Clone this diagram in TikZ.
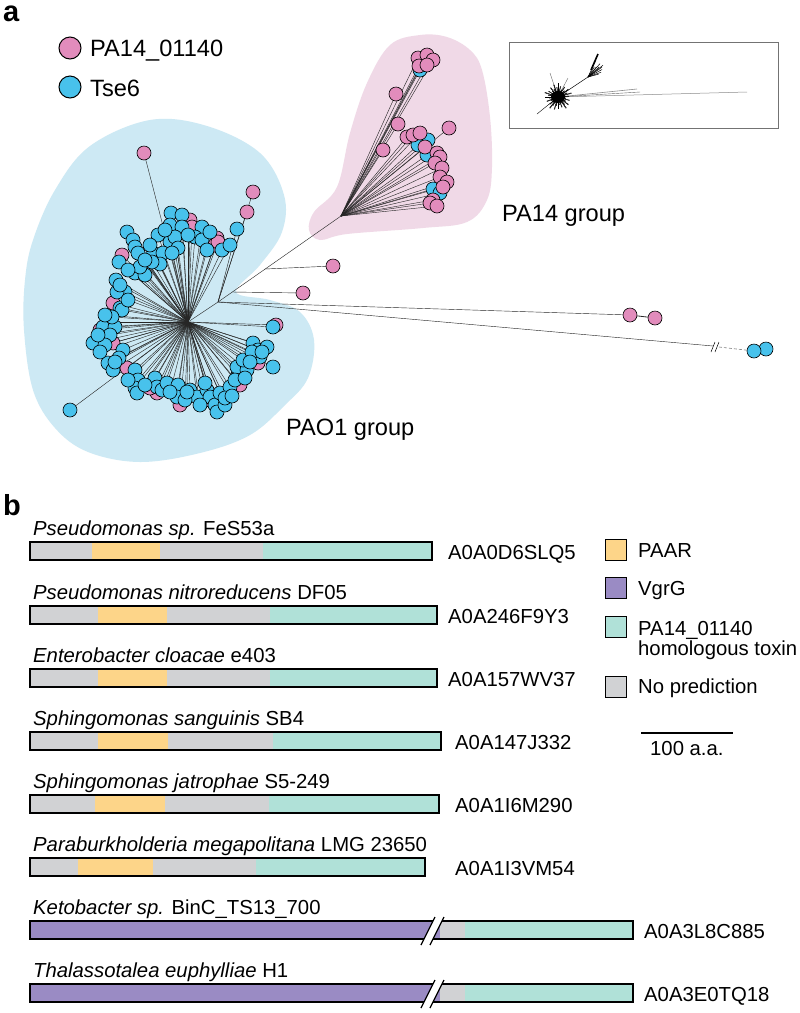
\documentclass[tikz,border=0pt]{standalone}
\usepackage{fontspec}
\setmainfont{Liberation Sans}
\pgfdeclarelayer{blobs}
\pgfdeclarelayer{edges}
\pgfsetlayers{blobs,edges,main}
\definecolor{nblue}{RGB}{72,194,236}
\definecolor{npink}{RGB}{226,140,188}
\definecolor{bblue}{RGB}{205,233,244}
\definecolor{bpink}{RGB}{240,217,231}
\definecolor{cgray}{RGB}{209,210,212}
\definecolor{corange}{RGB}{253,213,137}
\definecolor{cteal}{RGB}{176,225,216}
\definecolor{cpurple}{RGB}{154,139,196}
\tikzset{
  edge/.style={draw=black!85, line width=0.42pt},
  nd/.style={circle, draw=black, line width=0.6pt, minimum size=14pt, inner sep=0pt},
  pk/.style={nd, fill=npink},
  bl/.style={nd, fill=nblue},
  lgd/.style={circle, draw=black, line width=1pt, minimum size=22pt, inner sep=0pt},
  barline/.style={draw=black, line width=1.4pt},
  sq/.style={draw=black, line width=1pt, minimum size=21pt, inner sep=0pt},
  lab/.style={anchor=base west, inner sep=0pt, font=\fontsize{20.3}{24}\selectfont},
  big/.style={anchor=base west, inner sep=0pt, font=\fontsize{23.6}{28}\selectfont},
  panel/.style={anchor=base west, inner sep=0pt, font=\fontsize{29}{32}\selectfont\bfseries},
}
\newcommand\drawprot[9]{%
  \fill[cgray] (30,#2) rectangle (#3,#2+18);
  \fill[corange] (#4,#2) rectangle (#5,#2+18);
  \fill[cteal] (#6,#2) rectangle (#3,#2+18);
  \draw[barline] (30,#2) rectangle (#3,#2+18);
  \node[lab] (sp#1) at (33,#2-7) {#7};
  \node[lab] (id#1) at (#9,#2+17) {#8};
}
\newcommand\drawvgrg[4]{%
  \fill[cpurple] (30,#2) rectangle (440,#2+18);
  \fill[cgray] (440,#2) rectangle (465,#2+18);
  \fill[cteal] (465,#2) rectangle (633,#2+18);
  \draw[barline] (30,#2) rectangle (633,#2+18);
  \fill[white] (421,#2+24) -- (435,#2-4) -- (444,#2-4) -- (430,#2+24) -- cycle;
  \draw[line width=1.2pt] (421,#2+24) -- (435,#2-4);
  \draw[line width=1.2pt] (430,#2+24) -- (444,#2-4);
  \node[lab] (sp#1) at (33,#2-7) {#3};
  \node[lab] (id#1) at (644,#2+17) {#4};
}
\begin{document}
\begin{tikzpicture}[x=1pt, y=-1pt]
\useasboundingbox (0,0) rectangle (800,1013);

% ---------------- panel a ----------------
\node[panel] (pa) at (3,21) {a};
\node[lgd, fill=npink] (lg1) at (70,48) {};
\node[big] (lt1) at (90,56) {PA14\_01140};
\node[lgd, fill=nblue] (lg2) at (70,87) {};
\node[big] (lt2) at (90,96) {Tse6};

\begin{pgfonlayer}{blobs}
\fill[white] (0,0) rectangle (800,1013);
\fill[bblue] plot[smooth cycle, tension=0.6] coordinates {(33,240) (55,190) (90,146) (150,120) (207,126) (260,153) (284,195) (282,232) (260,265) (236,292) (270,300) (300,312) (314,340) (308,378) (285,405) (250,435) (200,453) (140,462) (88,452) (55,428) (33,390) (24,330) (25,280)};
\fill[bpink] plot[smooth cycle, tension=0.6] coordinates {(390,45) (420,35) (447,37) (470,50) (482,70) (490,117) (492,167) (487,200) (467,222) (423,228) (347,234) (320,240) (309,230) (314,212) (337,187) (350,133) (367,83)};
\end{pgfonlayer}

\coordinate (H1) at (188,322);
\coordinate (B) at (218,302);
\coordinate (H2) at (341,216);
\coordinate (C1) at (265,269);
\coordinate (C2) at (232,292);
\coordinate (K) at (713,346);

\begin{pgfonlayer}{edges}
\draw[edge] (H1) -- (B) -- (H2);
\draw[edge] (B) -- (630,315);
\draw[edge] (B) -- (K);
\end{pgfonlayer}

% PAO1 group: pink nodes behind
\foreach \x/\y [count=\i] in {190/220,192/227,217/238,215/245,218/242,113/303,113/343,127/368,157/393,180/405,258/363,276/325,122/255,100/330,150/388,240/385,205/400}{
  \node[pk] (ap\i) at (\x,\y) {};
  \begin{pgfonlayer}{edges}\draw[edge] (H1) -- (ap\i.center);\end{pgfonlayer}
}
\foreach \x/\y [count=\i] in {171/213,182/215,170/225,182/227,202/227,127/232,133/240,135/247,138/253,158/235,170/242,175/237,178/248,195/237,202/240,207/250,222/250,153/253,163/253,160/264,152/262,172/253,119/262,116/280,135/273,145/275,140/267,125/292,117/292,120/308,122/310,107/322,103/327,115/327,110/335,93/343,105/345,123/350,119/358,108/363,113/370,135/370,138/380,135/388,137/393,155/378,157/387,162/390,167/383,178/385,177/397,190/390,197/397,207/390,210/397,215/405,217/412,225/405,220/393,230/387,238/375,237/367,247/370,243/360,253/343,258/350,267/347,260/357,252/352,273/367,273/327,128/300,112/317,98/335,100/352,115/362,145/385,170/392,185/400,200/405,205/383,225/398,235/380,245/378,250/362,262/352,165/230,150/245,145/260,128/270,120/285,105/315,230/245,188/235,210/232,128/380,187/392,232/396}{
  \node[bl] (ab\i) at (\x,\y) {};
  \begin{pgfonlayer}{edges}\draw[edge] (H1) -- (ab\i.center);\end{pgfonlayer}
}
% outliers
\node[pk] (o1) at (144,153) {};
\node[pk] (o2) at (253,192) {};
\node[pk] (o3) at (247,212) {};
\node[bl] (o4) at (237,229) {};
\node[bl] (o5) at (70,410) {};
\node[pk] (o6) at (333,266) {};
\node[pk] (o7) at (303,293) {};
\begin{pgfonlayer}{edges}
\draw[edge] (H1) -- (o1.center);
\draw[edge] (B) -- (o2.center);
\draw[edge] (B) -- (o3.center);
\draw[edge] (B) -- (o4.center);
\draw[edge] (H1) -- (o5.center);
\draw[edge] (C1) -- (o6.center);
\draw[edge] (C2) -- (o7.center);
\end{pgfonlayer}

% PA14 group
\foreach \x/\y [count=\i] in {422/63,420/70,418/145,428/140,427/155,433/189,440/193}{
  \node[bl] (cb\i) at (\x,\y) {};
  \begin{pgfonlayer}{edges}\draw[edge] (H2) -- (cb\i.center);\end{pgfonlayer}
}
\foreach \x/\y [count=\i] in {418/58,427/55,433/60,419/66,427/65,396/94,398/124,383/150,449/128,407/137,413/135,420/133,425/147,437/153,440/157,435/163,442/168,440/177,447/182,443/187,433/200,430/203,437/206}{
  \node[pk] (cp\i) at (\x,\y) {};
  \begin{pgfonlayer}{edges}\draw[edge] (H2) -- (cp\i.center);\end{pgfonlayer}
}

% far-right nodes
\node[pk] (f1) at (630,315) {};
\node[pk] (f2) at (655,318) {};
\begin{pgfonlayer}{edges}\draw[edge, line width=0.8pt] (f1) -- (f2);\end{pgfonlayer}
\node[bl] (f4) at (766,349) {};
\node[bl] (f3) at (754,351) {};
\draw[line width=0.5pt] (711,352) -- (715,342);
\draw[line width=0.5pt] (715,352) -- (719,342);
\begin{pgfonlayer}{edges}\draw[black!50, line width=0.6pt, dash pattern=on 3pt off 2pt] (719,347) -- (f3.center);\end{pgfonlayer}

\node[big] (g1) at (502,221) {PA14 group};
\node[big] (g2) at (286,435) {PAO1 group};

% inset
\draw[black!55, line width=0.8pt] (509,42) rectangle (778,128);
\coordinate (ih) at (558,97);
\coordinate (ih2) at (588,77);
\draw[black!45, line width=0.5pt] (ih) -- (747,92);
\draw[black!45, line width=0.6pt] (ih) -- (637,89);
\draw[black!60, line width=0.4pt] (ih) -- (640,92);
\draw[black, line width=0.5pt] (ih) -- (ih2);
\draw[black, line width=0.4pt] (ih) -- (537,114);
\draw[black!60, line width=0.4pt] (ih) -- (550,73);
\draw[black!60, line width=0.4pt] (ih) -- (568,78);
\foreach \i in {1,...,110}{
  \pgfmathsetmacro\ang{mod(\i*137.5,360)}
  \pgfmathsetmacro\len{4+mod(\i*7,11)}
  \draw[black, line width=0.45pt] (ih) -- ++(\ang:\len);
}
\fill[black] (ih) ellipse (7 and 6);
\foreach \a/\l in {-20/14,-28/16,-35/17,-42/15,-50/13,-58/12,-65/18,-15/11,-38/19,-48/18}{
  \draw[black, line width=0.5pt] (ih2) -- ++(\a:\l);
}
\draw[black, line width=1.6pt] (591,70) -- (598,54);

% ---------------- panel b ----------------
\node[panel] (pb) at (3,515) {b};
\drawprot{1}{542}{432}{92}{160}{263}{{\itshape Pseudomonas sp.} FeS53a}{A0A0D6SLQ5}{448}
\drawprot{2}{606}{437}{98}{167}{270}{{\itshape Pseudomonas nitroreducens} DF05}{A0A246F9Y3}{448}
\drawprot{3}{669}{437}{98}{167}{270}{{\itshape Enterobacter cloacae} e403}{A0A157WV37}{448}
\drawprot{4}{732}{441}{98}{168}{273}{{\itshape Sphingomonas sanguinis} SB4}{A0A147J332}{455}
\drawprot{5}{795}{439}{95}{165}{269}{{\itshape Sphingomonas jatrophae} S5-249}{A0A1I6M290}{455}
\drawprot{6}{858}{425}{78}{153}{256}{{\itshape Paraburkholderia megapolitana} LMG 23650}{A0A1I3VM54}{455}
\drawvgrg{7}{921}{{\itshape Ketobacter sp.} BinC\_TS13\_700}{A0A3L8C885}
\drawvgrg{8}{984}{{\itshape Thalassotalea euphylliae} H1}{A0A3E0TQ18}

% legend b
\node[sq, fill=corange] (q1) at (616,550) {};
\node[lab] (qt1) at (638,557) {PAAR};
\node[sq, fill=cpurple] (q2) at (616,588) {};
\node[lab] (qt2) at (638,595) {VgrG};
\node[sq, fill=cteal] (q3) at (616,627) {};
\node[lab] (qt3) at (638,635) {PA14\_01140};
\node[lab] (qt3b) at (638,655) {homologous toxin};
\node[sq, fill=cgray] (q4) at (616,687) {};
\node[lab] (qt4) at (638,693) {No prediction};

\coordinate (s1) at (641,733);
\coordinate (s2) at (733,733);
\draw[line width=1.2pt] (s1) -- (s2);
\node[lab] (st) at (650,755) {100 a.a.};
\end{tikzpicture}
\end{document}
